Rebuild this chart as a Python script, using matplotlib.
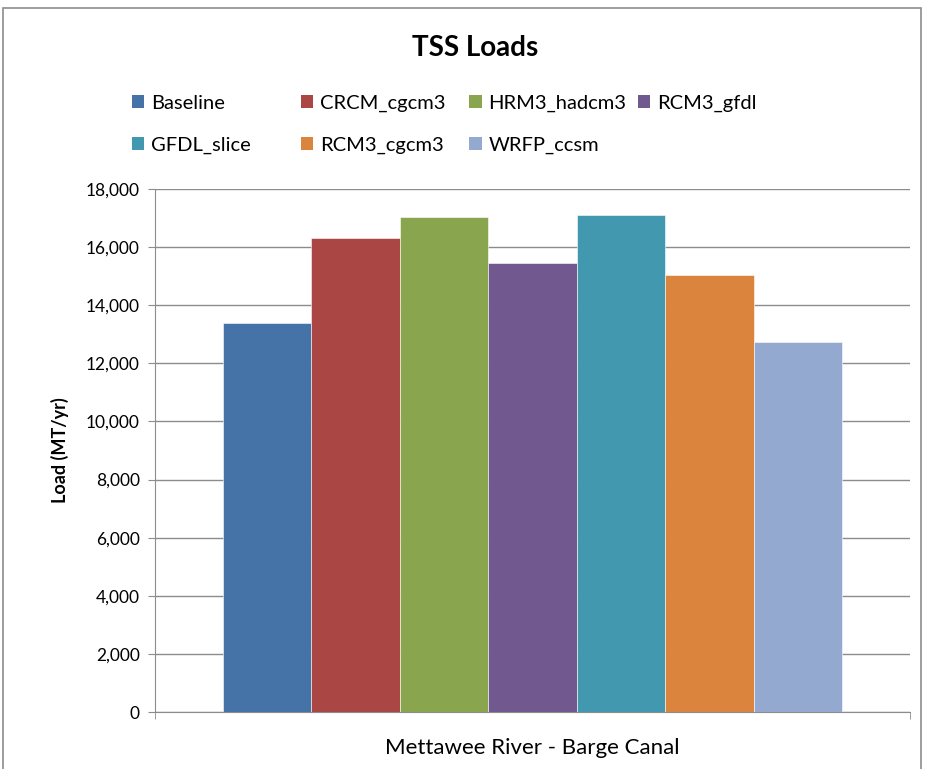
import matplotlib.pyplot as plt
from matplotlib.patches import Rectangle, Patch
from matplotlib.ticker import FuncFormatter

plt.rcParams['font.family'] = ['Lato', 'DejaVu Sans']

category = "Mettawee River - Barge Canal"
series = ["Baseline", "CRCM_cgcm3", "HRM3_hadcm3", "RCM3_gfdl",
          "GFDL_slice", "RCM3_cgcm3", "WRFP_ccsm"]
loads = [13390, 16300, 17030, 15440, 17090, 15030, 12720]
colors = ["#4572A7", "#AA4643", "#89A54E", "#71588F",
          "#4198AF", "#DB843D", "#93A9CF"]

fig = plt.figure(figsize=(9.25, 7.69), dpi=100)
fig.patches.append(Rectangle((0.003, -0.01), 0.993, 1.0, transform=fig.transFigure,
                             fill=False, edgecolor="#8c8c8c", linewidth=1.2))

ax = fig.add_axes([0.1676, 0.0741, 0.8162, 0.6801])

group = 0.82
w = group / len(series)
for i, (name, val, c) in enumerate(zip(series, loads, colors)):
    x = -group / 2 + w * (i + 0.5)
    ax.bar(x, val, width=w, color=c, edgecolor="white", linewidth=0.4, zorder=3, label=name)

ax.set_xlim(-0.5, 0.5)
ax.set_ylim(0, 18000)
ax.set_yticks(range(0, 18001, 2000))
ax.yaxis.set_major_formatter(FuncFormatter(lambda v, p: f"{int(v):,}"))
ax.grid(axis="y", color="#8c8c8c", linewidth=1.0, zorder=0)
ax.set_xticks([0])
ax.set_xticklabels([category], fontsize=16)
ax.set_xticks([-0.5, 0.5], minor=True)
ax.tick_params(axis="x", which="major", length=0, pad=19)
ax.tick_params(axis="x", which="minor", length=5, color="#8c8c8c")
ax.tick_params(axis="y", length=5, color="#8c8c8c", labelsize=12.5, pad=6)
for s in ["top", "right"]:
    ax.spines[s].set_visible(False)
for s in ["left", "bottom"]:
    ax.spines[s].set_color("#8c8c8c")

ax.set_ylabel("Load (MT/yr)", fontsize=13, fontweight="bold", labelpad=12)

fig.text(0.514, 0.938, "TSS Loads", ha="center", va="center", fontsize=20, fontweight="bold")

# legend laid out in equal-width columns like the original
x0, dx = 0.1425, 0.1825
rows_y = [0.866, 0.811]
for i, (name, c) in enumerate(zip(series, colors)):
    col, row = i % 4, i // 4
    fig.legend([Patch(facecolor=c)], [name], loc="center left",
               bbox_to_anchor=(x0 + col * dx, rows_y[row]), frameon=False,
               fontsize=14.5, handlelength=0.6, handleheight=0.6,
               handletextpad=0.35, borderpad=0, borderaxespad=0)

fig.savefig("out.png", dpi=100)
